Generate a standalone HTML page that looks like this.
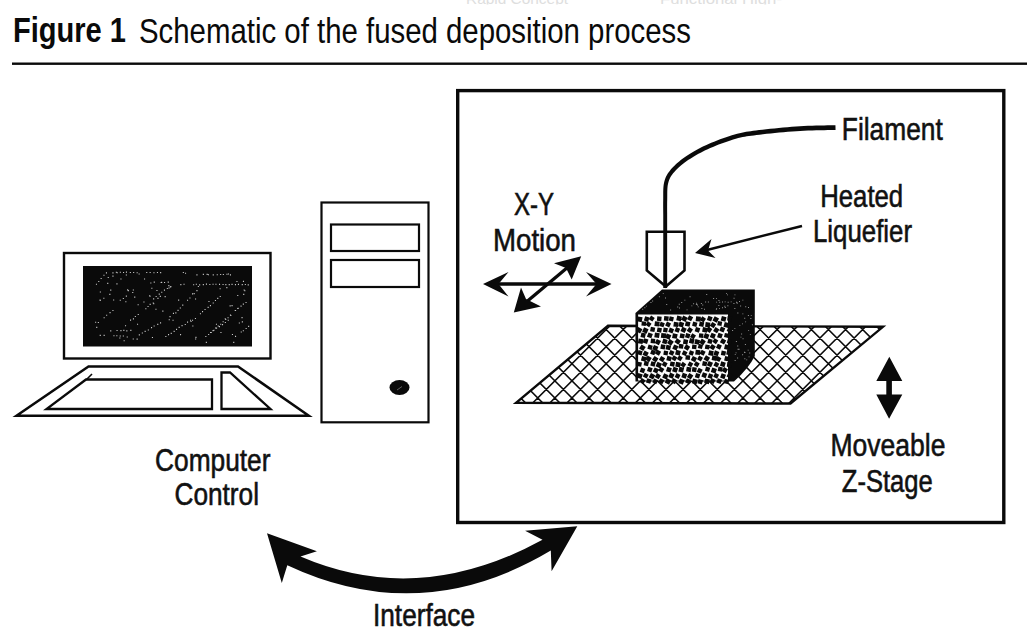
<!DOCTYPE html>
<html><head><meta charset="utf-8"><style>html,body{margin:0;padding:0;background:#fff;width:1027px;height:634px;overflow:hidden}</style></head>
<body><svg width="1027" height="634" viewBox="0 0 1027 634" style="display:block;font-family:'Liberation Sans',sans-serif"><defs><clipPath id="topc"><rect x="0" y="0" width="1027" height="4.6"/></clipPath></defs><g clip-path="url(#topc)">
<text x="466" y="4.3" font-size="15" font-weight="normal" fill="#dedede" textLength="102" lengthAdjust="spacingAndGlyphs">Rapid Concept</text>
<text x="660" y="4.3" font-size="15" font-weight="normal" fill="#dedede" textLength="122" lengthAdjust="spacingAndGlyphs">Functional High-</text>
</g>
<text x="13" y="42.3" font-size="35" font-weight="bold" fill="#0a0a0a" textLength="113" lengthAdjust="spacingAndGlyphs">Figure 1</text>
<text x="139" y="42.5" font-size="35" font-weight="normal" fill="#0a0a0a" textLength="552" lengthAdjust="spacingAndGlyphs">Schematic of the fused deposition process</text>
<rect x="12" y="62.5" width="1015" height="2.4" fill="#0a0a0a"/>
<rect x="457.7" y="90.6" width="546.1" height="431.9" fill="none" stroke="#0a0a0a" stroke-width="3.4"/>
<rect x="64" y="253" width="206.5" height="105.5" fill="none" stroke="#0a0a0a" stroke-width="2.4"/>
<rect x="83" y="266" width="169" height="80.5" fill="#0a0a0a"/>
<path d="M95.9 283.7h1.1v1.1h-1.1zM98.2 281.0h1.1v1.1h-1.1zM100.6 278.0h1.1v1.1h-1.1zM103.4 274.7h1.1v1.1h-1.1zM105.9 272.3h1.1v1.1h-1.1zM112.4 272.3h1.1v1.1h-1.1zM115.8 271.7h1.1v1.1h-1.1zM119.8 271.7h1.1v1.1h-1.1zM123.0 271.9h1.1v1.1h-1.1zM125.9 271.6h1.1v1.1h-1.1zM129.8 271.9h1.1v1.1h-1.1zM133.1 272.0h1.1v1.1h-1.1zM136.6 272.2h1.1v1.1h-1.1zM146.2 271.9h1.1v1.1h-1.1zM149.6 272.0h1.1v1.1h-1.1zM153.4 272.2h1.1v1.1h-1.1zM156.9 271.9h1.1v1.1h-1.1zM160.1 272.1h1.1v1.1h-1.1zM150.3 282.4h1.1v1.1h-1.1zM153.7 281.6h1.1v1.1h-1.1zM160.6 281.9h1.1v1.1h-1.1zM164.0 282.0h1.1v1.1h-1.1zM167.7 281.6h1.1v1.1h-1.1zM99.7 299.8h1.1v1.1h-1.1zM103.3 297.7h1.1v1.1h-1.1zM109.3 293.8h1.1v1.1h-1.1zM119.7 299.7h1.1v1.1h-1.1zM122.8 298.0h1.1v1.1h-1.1zM125.8 295.6h1.1v1.1h-1.1zM132.2 292.0h1.1v1.1h-1.1zM153.1 298.3h1.1v1.1h-1.1zM155.6 295.9h1.1v1.1h-1.1zM158.7 293.6h1.1v1.1h-1.1zM161.2 291.7h1.1v1.1h-1.1zM163.9 289.6h1.1v1.1h-1.1zM166.8 287.9h1.1v1.1h-1.1zM170.3 286.1h1.1v1.1h-1.1zM97.8 321.9h1.1v1.1h-1.1zM103.6 317.2h1.1v1.1h-1.1zM106.1 314.7h1.1v1.1h-1.1zM109.5 312.1h1.1v1.1h-1.1zM112.4 310.0h1.1v1.1h-1.1zM130.0 319.6h1.1v1.1h-1.1zM132.9 318.3h1.1v1.1h-1.1zM134.8 315.9h1.1v1.1h-1.1zM137.7 314.0h1.1v1.1h-1.1zM145.3 308.2h1.1v1.1h-1.1zM147.5 305.9h1.1v1.1h-1.1zM149.6 303.8h1.1v1.1h-1.1zM152.7 302.4h1.1v1.1h-1.1zM157.4 297.8h1.1v1.1h-1.1zM159.8 295.8h1.1v1.1h-1.1zM175.3 312.3h1.1v1.1h-1.1zM177.5 309.8h1.1v1.1h-1.1zM179.8 307.4h1.1v1.1h-1.1zM182.2 304.6h1.1v1.1h-1.1zM187.0 299.7h1.1v1.1h-1.1zM189.4 297.5h1.1v1.1h-1.1zM196.4 290.1h1.1v1.1h-1.1zM192.0 319.7h1.1v1.1h-1.1zM194.9 317.9h1.1v1.1h-1.1zM199.9 313.2h1.1v1.1h-1.1zM202.0 311.1h1.1v1.1h-1.1zM204.5 309.0h1.1v1.1h-1.1zM207.6 306.8h1.1v1.1h-1.1zM209.9 305.1h1.1v1.1h-1.1zM212.7 302.5h1.1v1.1h-1.1zM214.9 300.0h1.1v1.1h-1.1zM217.2 297.8h1.1v1.1h-1.1zM219.7 296.0h1.1v1.1h-1.1zM210.0 331.9h1.1v1.1h-1.1zM212.5 330.1h1.1v1.1h-1.1zM215.0 327.5h1.1v1.1h-1.1zM217.7 325.5h1.1v1.1h-1.1zM220.2 323.7h1.1v1.1h-1.1zM222.6 321.2h1.1v1.1h-1.1zM225.2 319.0h1.1v1.1h-1.1zM227.5 317.2h1.1v1.1h-1.1zM230.3 315.0h1.1v1.1h-1.1zM234.7 310.0h1.1v1.1h-1.1zM237.2 308.0h1.1v1.1h-1.1zM224.7 318.2h1.1v1.1h-1.1zM229.9 314.4h1.1v1.1h-1.1zM235.0 309.9h1.1v1.1h-1.1zM237.6 307.8h1.1v1.1h-1.1zM240.5 305.6h1.1v1.1h-1.1zM242.8 303.6h1.1v1.1h-1.1zM245.5 302.0h1.1v1.1h-1.1zM99.7 334.8h1.1v1.1h-1.1zM103.6 334.8h1.1v1.1h-1.1zM113.4 335.2h1.1v1.1h-1.1zM116.3 335.2h1.1v1.1h-1.1zM119.7 335.4h1.1v1.1h-1.1zM132.7 338.5h1.1v1.1h-1.1zM138.8 334.3h1.1v1.1h-1.1zM141.8 332.5h1.1v1.1h-1.1zM144.6 330.8h1.1v1.1h-1.1zM147.8 329.4h1.1v1.1h-1.1zM151.0 327.1h1.1v1.1h-1.1zM153.6 325.4h1.1v1.1h-1.1zM157.2 323.8h1.1v1.1h-1.1zM160.0 322.3h1.1v1.1h-1.1zM165.3 335.9h1.1v1.1h-1.1zM168.0 334.1h1.1v1.1h-1.1zM170.7 332.8h1.1v1.1h-1.1zM173.6 330.8h1.1v1.1h-1.1zM176.0 328.8h1.1v1.1h-1.1zM178.6 326.8h1.1v1.1h-1.1zM181.5 325.1h1.1v1.1h-1.1zM184.7 323.9h1.1v1.1h-1.1zM187.0 321.6h1.1v1.1h-1.1zM190.0 319.7h1.1v1.1h-1.1zM205.3 335.9h1.1v1.1h-1.1zM208.1 334.0h1.1v1.1h-1.1zM210.7 332.0h1.1v1.1h-1.1zM213.4 329.7h1.1v1.1h-1.1zM216.0 327.6h1.1v1.1h-1.1zM218.9 326.1h1.1v1.1h-1.1zM222.0 324.1h1.1v1.1h-1.1zM224.8 321.9h1.1v1.1h-1.1zM227.7 319.7h1.1v1.1h-1.1zM180.3 284.1h1.1v1.1h-1.1zM183.5 283.7h1.1v1.1h-1.1zM193.1 284.2h1.1v1.1h-1.1zM195.8 283.7h1.1v1.1h-1.1zM199.1 284.3h1.1v1.1h-1.1zM202.8 284.1h1.1v1.1h-1.1zM205.9 283.6h1.1v1.1h-1.1zM209.3 284.0h1.1v1.1h-1.1zM212.5 283.7h1.1v1.1h-1.1zM215.4 283.7h1.1v1.1h-1.1zM219.0 283.8h1.1v1.1h-1.1zM222.5 284.0h1.1v1.1h-1.1zM225.3 284.1h1.1v1.1h-1.1zM228.7 284.1h1.1v1.1h-1.1zM231.5 283.8h1.1v1.1h-1.1zM234.9 284.1h1.1v1.1h-1.1zM237.9 283.8h1.1v1.1h-1.1zM241.7 284.1h1.1v1.1h-1.1zM244.8 284.0h1.1v1.1h-1.1zM247.7 284.3h1.1v1.1h-1.1zM196.4 274.3h1.1v1.1h-1.1zM202.8 273.8h1.1v1.1h-1.1zM206.6 273.8h1.1v1.1h-1.1zM212.7 274.3h1.1v1.1h-1.1zM216.7 274.2h1.1v1.1h-1.1zM220.1 274.0h1.1v1.1h-1.1zM222.8 274.0h1.1v1.1h-1.1zM226.4 273.7h1.1v1.1h-1.1zM229.9 274.3h1.1v1.1h-1.1zM110.2 330.3h1.1v1.1h-1.1zM116.5 329.9h1.1v1.1h-1.1zM120.4 330.1h1.1v1.1h-1.1zM123.3 329.8h1.1v1.1h-1.1zM126.3 330.3h1.1v1.1h-1.1zM130.3 329.8h1.1v1.1h-1.1zM235.0 335.8h1.1v1.1h-1.1zM242.8 330.2h1.1v1.1h-1.1zM245.6 328.0h1.1v1.1h-1.1zM248.1 325.8h1.1v1.1h-1.1zM236.4 280.9h1.1v1.1h-1.1zM164.6 296.1h1.1v1.1h-1.1zM137.0 323.7h1.1v1.1h-1.1zM244.3 290.2h1.1v1.1h-1.1zM193.6 293.1h1.1v1.1h-1.1zM178.1 299.6h1.1v1.1h-1.1zM116.4 283.3h1.1v1.1h-1.1zM122.8 335.4h1.1v1.1h-1.1zM168.5 287.4h1.1v1.1h-1.1zM233.2 341.8h1.1v1.1h-1.1zM161.1 281.8h1.1v1.1h-1.1zM120.4 278.4h1.1v1.1h-1.1zM144.0 278.4h1.1v1.1h-1.1zM127.8 290.1h1.1v1.1h-1.1zM180.0 334.1h1.1v1.1h-1.1zM208.4 300.9h1.1v1.1h-1.1zM155.4 308.7h1.1v1.1h-1.1zM149.5 295.7h1.1v1.1h-1.1zM99.8 291.4h1.1v1.1h-1.1zM242.9 280.8h1.1v1.1h-1.1zM169.5 316.1h1.1v1.1h-1.1zM226.3 287.1h1.1v1.1h-1.1zM132.8 289.4h1.1v1.1h-1.1zM153.2 303.2h1.1v1.1h-1.1zM240.7 331.4h1.1v1.1h-1.1zM227.9 273.5h1.1v1.1h-1.1zM95.1 321.7h1.1v1.1h-1.1zM231.5 305.1h1.1v1.1h-1.1zM182.8 272.0h1.1v1.1h-1.1zM151.9 336.9h1.1v1.1h-1.1zM220.4 331.9h1.1v1.1h-1.1zM243.6 289.4h1.1v1.1h-1.1zM107.2 282.8h1.1v1.1h-1.1zM172.5 319.7h1.1v1.1h-1.1zM238.8 322.5h1.1v1.1h-1.1zM192.3 325.5h1.1v1.1h-1.1zM162.3 310.6h1.1v1.1h-1.1zM96.2 326.8h1.1v1.1h-1.1zM126.7 336.4h1.1v1.1h-1.1zM192.0 293.3h1.1v1.1h-1.1zM110.2 289.6h1.1v1.1h-1.1zM190.5 320.9h1.1v1.1h-1.1zM107.7 276.9h1.1v1.1h-1.1zM172.9 312.8h1.1v1.1h-1.1zM151.3 287.7h1.1v1.1h-1.1zM185.0 272.7h1.1v1.1h-1.1zM137.6 304.2h1.1v1.1h-1.1zM241.5 317.1h1.1v1.1h-1.1zM229.6 305.3h1.1v1.1h-1.1zM127.1 289.3h1.1v1.1h-1.1zM241.8 321.3h1.1v1.1h-1.1zM138.6 273.5h1.1v1.1h-1.1zM168.7 319.2h1.1v1.1h-1.1zM156.4 290.0h1.1v1.1h-1.1zM195.4 336.8h1.1v1.1h-1.1zM125.8 274.4h1.1v1.1h-1.1zM143.4 301.4h1.1v1.1h-1.1zM197.8 285.9h1.1v1.1h-1.1zM215.9 323.7h1.1v1.1h-1.1zM169.8 286.4h1.1v1.1h-1.1zM243.2 293.8h1.1v1.1h-1.1zM219.6 288.2h1.1v1.1h-1.1zM125.0 325.2h1.1v1.1h-1.1zM136.6 338.6h1.1v1.1h-1.1zM168.3 285.1h1.1v1.1h-1.1zM125.3 301.2h1.1v1.1h-1.1zM195.1 338.4h1.1v1.1h-1.1zM113.1 299.5h1.1v1.1h-1.1zM123.6 340.2h1.1v1.1h-1.1zM112.4 275.6h1.1v1.1h-1.1zM99.5 299.5h1.1v1.1h-1.1zM231.9 333.9h1.1v1.1h-1.1zM205.8 341.8h1.1v1.1h-1.1zM237.2 295.0h1.1v1.1h-1.1zM119.3 337.5h1.1v1.1h-1.1zM207.9 274.2h1.1v1.1h-1.1zM195.0 298.5h1.1v1.1h-1.1zM149.1 295.2h1.1v1.1h-1.1zM116.7 272.2h1.1v1.1h-1.1zM134.2 296.6h1.1v1.1h-1.1z" fill="#c8c8c8"/>
<path d="M88.5 366.5 L238 366.5 L308.8 415.8 L16.5 415.8 Z" fill="none" stroke="#0a0a0a" stroke-width="2.5"/>
<path d="M86 379.5 L212 379.5 L212 409 L46.5 409 Z" fill="none" stroke="#0a0a0a" stroke-width="2.3"/>
<path d="M86 380 L92 374" stroke="#0a0a0a" stroke-width="1.6"/>
<path d="M221.5 372.5 L230 372.5 L270.5 409 L221.5 409 Z" fill="none" stroke="#0a0a0a" stroke-width="2.3"/>
<rect x="321.5" y="202.5" width="107" height="219.8" fill="none" stroke="#0a0a0a" stroke-width="2.2"/>
<rect x="331" y="224.5" width="88" height="26.5" fill="none" stroke="#0a0a0a" stroke-width="2.2"/>
<rect x="331" y="260" width="88" height="27" fill="none" stroke="#0a0a0a" stroke-width="2.2"/>
<ellipse cx="399.5" cy="387.5" rx="10" ry="7.5" fill="#0a0a0a"/>
<path d="M397 390 L402 386.5" stroke="#777" stroke-width="0.8"/>
<text x="155" y="471" font-size="31.5" font-weight="normal" fill="#111" stroke="#111" stroke-width="0.6" textLength="115.5" lengthAdjust="spacingAndGlyphs">Computer</text>
<text x="174.5" y="505.3" font-size="31.5" font-weight="normal" fill="#111" stroke="#111" stroke-width="0.6" textLength="84.5" lengthAdjust="spacingAndGlyphs">Control</text>
<text x="373" y="626.3" font-size="31.5" font-weight="normal" fill="#111" stroke="#111" stroke-width="0.6" textLength="102" lengthAdjust="spacingAndGlyphs">Interface</text>
<text x="514" y="215.3" font-size="31.5" font-weight="normal" fill="#111" stroke="#111" stroke-width="0.6" textLength="40" lengthAdjust="spacingAndGlyphs">X-Y</text>
<text x="493" y="250.8" font-size="31.5" font-weight="normal" fill="#111" stroke="#111" stroke-width="0.6" textLength="83" lengthAdjust="spacingAndGlyphs">Motion</text>
<text x="841.8" y="140" font-size="31.5" font-weight="normal" fill="#111" stroke="#111" stroke-width="0.6" textLength="101" lengthAdjust="spacingAndGlyphs">Filament</text>
<text x="820.2" y="206.7" font-size="31.5" font-weight="normal" fill="#111" stroke="#111" stroke-width="0.6" textLength="83" lengthAdjust="spacingAndGlyphs">Heated</text>
<text x="813" y="241.7" font-size="31.5" font-weight="normal" fill="#111" stroke="#111" stroke-width="0.6" textLength="99" lengthAdjust="spacingAndGlyphs">Liquefier</text>
<text x="830.5" y="456.3" font-size="31.5" font-weight="normal" fill="#111" stroke="#111" stroke-width="0.6" textLength="115" lengthAdjust="spacingAndGlyphs">Moveable</text>
<text x="841.8" y="491.8" font-size="31.5" font-weight="normal" fill="#111" stroke="#111" stroke-width="0.6" textLength="91" lengthAdjust="spacingAndGlyphs">Z-Stage</text>
<path d="M835.45 125.20 L833.36 125.25 L830.72 125.30 L827.59 125.35 L824.07 125.41 L820.25 125.49 L816.23 125.58 L812.09 125.70 L807.92 125.85 L803.82 126.03 L799.87 126.25 L795.91 126.53 L791.75 126.84 L787.46 127.19 L783.10 127.58 L778.72 127.98 L774.41 128.41 L770.22 128.84 L766.22 129.27 L762.46 129.70 L759.03 130.12 L755.96 130.50 L753.21 130.84 L750.70 131.16 L748.36 131.48 L746.14 131.83 L743.97 132.20 L741.79 132.63 L739.54 133.14 L737.17 133.73 L734.61 134.43 L731.87 135.24 L729.01 136.15 L726.06 137.14 L723.07 138.20 L720.06 139.32 L717.06 140.47 L714.11 141.65 L711.25 142.84 L708.50 144.02 L705.90 145.19 L703.42 146.36 L701.00 147.55 L698.66 148.76 L696.39 149.98 L694.19 151.22 L692.06 152.47 L690.00 153.73 L688.02 154.99 L686.11 156.26 L684.28 157.53 L682.51 158.81 L680.80 160.12 L679.16 161.44 L677.59 162.77 L676.10 164.10 L674.69 165.43 L673.36 166.76 L672.11 168.07 L670.95 169.37 L669.89 170.65 L668.93 171.89 L668.08 173.08 L667.33 174.25 L666.66 175.41 L666.07 176.58 L665.56 177.77 L665.10 179.00 L664.70 180.28 L664.34 181.61 L664.01 183.02 L663.72 184.58 L663.50 186.24 L663.36 187.96 L663.28 189.71 L663.23 191.48 L663.22 193.25 L663.22 195.00 L663.22 196.72 L663.22 198.38 L663.20 199.97 L663.17 201.59 L663.16 203.31 L663.16 205.07 L663.16 206.83 L663.18 208.54 L663.19 210.17 L663.21 211.67 L663.23 213.00 L663.24 214.13 L663.25 215.01 L663.25 288.00 L667.15 288.00 L667.15 214.99 L667.15 214.10 L667.15 212.97 L667.14 211.63 L667.13 210.14 L667.12 208.52 L667.12 206.83 L667.13 205.09 L667.14 203.36 L667.16 201.67 L667.20 200.03 L667.23 198.40 L667.24 196.72 L667.25 195.01 L667.26 193.29 L667.28 191.59 L667.33 189.92 L667.42 188.30 L667.55 186.76 L667.74 185.33 L667.99 183.98 L668.30 182.69 L668.63 181.52 L668.97 180.44 L669.35 179.42 L669.78 178.45 L670.26 177.49 L670.83 176.52 L671.48 175.51 L672.24 174.46 L673.11 173.35 L674.09 172.18 L675.17 170.98 L676.33 169.76 L677.59 168.52 L678.92 167.28 L680.34 166.02 L681.83 164.77 L683.39 163.52 L685.02 162.29 L686.72 161.07 L688.49 159.86 L690.34 158.64 L692.26 157.43 L694.25 156.22 L696.31 155.02 L698.45 153.82 L700.66 152.64 L702.93 151.48 L705.28 150.33 L707.70 149.21 L710.24 148.08 L712.94 146.92 L715.75 145.77 L718.65 144.62 L721.59 143.49 L724.55 142.41 L727.48 141.38 L730.36 140.42 L733.14 139.55 L735.79 138.77 L738.25 138.11 L740.52 137.55 L742.66 137.08 L744.74 136.68 L746.82 136.32 L748.98 136.00 L751.27 135.70 L753.76 135.39 L756.52 135.05 L759.57 134.68 L762.98 134.28 L766.71 133.87 L770.69 133.45 L774.86 133.03 L779.15 132.62 L783.50 132.22 L787.84 131.85 L792.10 131.51 L796.22 131.20 L800.13 130.95 L804.02 130.73 L808.08 130.56 L812.21 130.43 L816.33 130.32 L820.34 130.24 L824.14 130.17 L827.66 130.12 L830.80 130.08 L833.46 130.04 L835.55 130.00 Z" fill="#0a0a0a"/>
<path d="M646.8 231.8 L684.5 231.8 L684.5 270.5 L665.8 286.5 L646.8 270.5 Z" fill="none" stroke="#0a0a0a" stroke-width="2.6"/>
<path d="M802 226 L705 250.5" stroke="#0a0a0a" stroke-width="2.4"/>
<path d="M695 253 L711.5 239 L708 250.5 L715.5 258 Z" fill="#0a0a0a"/>
<path d="M490 284 L605 284" stroke="#0a0a0a" stroke-width="3.3"/>
<path d="M483 284 L508.5 272 L498.5 284 L508.5 296.5 Z" fill="#0a0a0a"/>
<path d="M611.5 284 L586 272 L596.5 284 L586 296.5 Z" fill="#0a0a0a"/>
<path d="M518 309 L577 259.5" stroke="#0a0a0a" stroke-width="3.3"/>
<path d="M581.2 256.2 L554 263.3 L566 268 L571.7 279.4 Z" fill="#0a0a0a"/>
<path d="M513.8 312.5 L521 287.6 L526 299 L541 306.6 Z" fill="#0a0a0a"/>
<defs><clipPath id="plat"><path d="M516 402.8 L608 325.8 L883 326.8 L790.5 403.5 Z"/></clipPath></defs>
<g clip-path="url(#plat)"><path d="M-381.0 300 L-261.0 420M-681.0 300 L-801.0 420M-363.9 300 L-243.9 420M-663.9 300 L-783.9 420M-346.8 300 L-226.8 420M-646.8 300 L-766.8 420M-329.7 300 L-209.7 420M-629.7 300 L-749.7 420M-312.6 300 L-192.6 420M-612.6 300 L-732.6 420M-295.5 300 L-175.5 420M-595.5 300 L-715.5 420M-278.4 300 L-158.4 420M-578.4 300 L-698.4 420M-261.3 300 L-141.3 420M-561.3 300 L-681.3 420M-244.2 300 L-124.2 420M-544.2 300 L-664.2 420M-227.1 300 L-107.1 420M-527.1 300 L-647.1 420M-210.0 300 L-90.0 420M-510.0 300 L-630.0 420M-192.9 300 L-72.9 420M-492.9 300 L-612.9 420M-175.8 300 L-55.8 420M-475.8 300 L-595.8 420M-158.7 300 L-38.7 420M-458.7 300 L-578.7 420M-141.6 300 L-21.6 420M-441.6 300 L-561.6 420M-124.5 300 L-4.5 420M-424.5 300 L-544.5 420M-107.4 300 L12.6 420M-407.4 300 L-527.4 420M-90.3 300 L29.7 420M-390.3 300 L-510.3 420M-73.2 300 L46.8 420M-373.2 300 L-493.2 420M-56.1 300 L63.9 420M-356.1 300 L-476.1 420M-39.0 300 L81.0 420M-339.0 300 L-459.0 420M-21.9 300 L98.1 420M-321.9 300 L-441.9 420M-4.8 300 L115.2 420M-304.8 300 L-424.8 420M12.3 300 L132.3 420M-287.7 300 L-407.7 420M29.4 300 L149.4 420M-270.6 300 L-390.6 420M46.5 300 L166.5 420M-253.5 300 L-373.5 420M63.6 300 L183.6 420M-236.4 300 L-356.4 420M80.7 300 L200.7 420M-219.3 300 L-339.3 420M97.8 300 L217.8 420M-202.2 300 L-322.2 420M114.9 300 L234.9 420M-185.1 300 L-305.1 420M132.0 300 L252.0 420M-168.0 300 L-288.0 420M149.1 300 L269.1 420M-150.9 300 L-270.9 420M166.2 300 L286.2 420M-133.8 300 L-253.8 420M183.3 300 L303.3 420M-116.7 300 L-236.7 420M200.4 300 L320.4 420M-99.6 300 L-219.6 420M217.5 300 L337.5 420M-82.5 300 L-202.5 420M234.6 300 L354.6 420M-65.4 300 L-185.4 420M251.7 300 L371.7 420M-48.3 300 L-168.3 420M268.8 300 L388.8 420M-31.2 300 L-151.2 420M285.9 300 L405.9 420M-14.1 300 L-134.1 420M303.0 300 L423.0 420M3.0 300 L-117.0 420M320.1 300 L440.1 420M20.1 300 L-99.9 420M337.2 300 L457.2 420M37.2 300 L-82.8 420M354.3 300 L474.3 420M54.3 300 L-65.7 420M371.4 300 L491.4 420M71.4 300 L-48.6 420M388.5 300 L508.5 420M88.5 300 L-31.5 420M405.6 300 L525.6 420M105.6 300 L-14.4 420M422.7 300 L542.7 420M122.7 300 L2.7 420M439.8 300 L559.8 420M139.8 300 L19.8 420M456.9 300 L576.9 420M156.9 300 L36.9 420M474.0 300 L594.0 420M174.0 300 L54.0 420M491.1 300 L611.1 420M191.1 300 L71.1 420M508.2 300 L628.2 420M208.2 300 L88.2 420M525.3 300 L645.3 420M225.3 300 L105.3 420M542.4 300 L662.4 420M242.4 300 L122.4 420M559.5 300 L679.5 420M259.5 300 L139.5 420M576.6 300 L696.6 420M276.6 300 L156.6 420M593.7 300 L713.7 420M293.7 300 L173.7 420M610.8 300 L730.8 420M310.8 300 L190.8 420M627.9 300 L747.9 420M327.9 300 L207.9 420M645.0 300 L765.0 420M345.0 300 L225.0 420M662.1 300 L782.1 420M362.1 300 L242.1 420M679.2 300 L799.2 420M379.2 300 L259.2 420M696.3 300 L816.3 420M396.3 300 L276.3 420M713.4 300 L833.4 420M413.4 300 L293.4 420M730.5 300 L850.5 420M430.5 300 L310.5 420M747.6 300 L867.6 420M447.6 300 L327.6 420M764.7 300 L884.7 420M464.7 300 L344.7 420M781.8 300 L901.8 420M481.8 300 L361.8 420M798.9 300 L918.9 420M498.9 300 L378.9 420M816.0 300 L936.0 420M516.0 300 L396.0 420M833.1 300 L953.1 420M533.1 300 L413.1 420M850.2 300 L970.2 420M550.2 300 L430.2 420M867.3 300 L987.3 420M567.3 300 L447.3 420M884.4 300 L1004.4 420M584.4 300 L464.4 420M901.5 300 L1021.5 420M601.5 300 L481.5 420M918.6 300 L1038.6 420M618.6 300 L498.6 420M935.7 300 L1055.7 420M635.7 300 L515.7 420M952.8 300 L1072.8 420M652.8 300 L532.8 420M969.9 300 L1089.9 420M669.9 300 L549.9 420M987.0 300 L1107.0 420M687.0 300 L567.0 420M1004.1 300 L1124.1 420M704.1 300 L584.1 420M1021.2 300 L1141.2 420M721.2 300 L601.2 420M1038.3 300 L1158.3 420M738.3 300 L618.3 420M1055.4 300 L1175.4 420M755.4 300 L635.4 420M1072.5 300 L1192.5 420M772.5 300 L652.5 420M1089.6 300 L1209.6 420M789.6 300 L669.6 420M1106.7 300 L1226.7 420M806.7 300 L686.7 420M1123.8 300 L1243.8 420M823.8 300 L703.8 420M1140.9 300 L1260.9 420M840.9 300 L720.9 420M1158.0 300 L1278.0 420M858.0 300 L738.0 420M1175.1 300 L1295.1 420M875.1 300 L755.1 420M1192.2 300 L1312.2 420M892.2 300 L772.2 420M1209.3 300 L1329.3 420M909.3 300 L789.3 420M1226.4 300 L1346.4 420M926.4 300 L806.4 420M1243.5 300 L1363.5 420M943.5 300 L823.5 420M1260.6 300 L1380.6 420M960.6 300 L840.6 420M1277.7 300 L1397.7 420M977.7 300 L857.7 420M1294.8 300 L1414.8 420M994.8 300 L874.8 420M1311.9 300 L1431.9 420M1011.9 300 L891.9 420M1329.0 300 L1449.0 420M1029.0 300 L909.0 420M1346.1 300 L1466.1 420M1046.1 300 L926.1 420M1363.2 300 L1483.2 420M1063.2 300 L943.2 420M1380.3 300 L1500.3 420M1080.3 300 L960.3 420M1397.4 300 L1517.4 420M1097.4 300 L977.4 420M1414.5 300 L1534.5 420M1114.5 300 L994.5 420M1431.6 300 L1551.6 420M1131.6 300 L1011.6 420M1448.7 300 L1568.7 420M1148.7 300 L1028.7 420M1465.8 300 L1585.8 420M1165.8 300 L1045.8 420M1482.9 300 L1602.9 420M1182.9 300 L1062.9 420M1500.0 300 L1620.0 420M1200.0 300 L1080.0 420M1517.1 300 L1637.1 420M1217.1 300 L1097.1 420M1534.2 300 L1654.2 420M1234.2 300 L1114.2 420M1551.3 300 L1671.3 420M1251.3 300 L1131.3 420M1568.4 300 L1688.4 420M1268.4 300 L1148.4 420M1585.5 300 L1705.5 420M1285.5 300 L1165.5 420M1602.6 300 L1722.6 420M1302.6 300 L1182.6 420M1619.7 300 L1739.7 420M1319.7 300 L1199.7 420M1636.8 300 L1756.8 420M1336.8 300 L1216.8 420M1653.9 300 L1773.9 420M1353.9 300 L1233.9 420" stroke="#0a0a0a" stroke-width="1.55"/></g>
<path d="M516 402.8 L608 325.8 L883 326.8 L790.5 403.5 Z" fill="none" stroke="#0a0a0a" stroke-width="2.4"/>
<path d="M635.5 313 L662 289.5 L754.8 289.5 L754.8 356 Q749 368 734 381.5 L635.5 381.5 Z" fill="#0a0a0a"/>
<rect x="638" y="314.5" width="90" height="66" fill="#fafafa"/>
<path d="M637.8 316.4l4.78 0.95l-0.95 4.78l-4.78 -0.95zM645.2 316.2l4.29 1.39l-1.39 4.29l-4.29 -1.39zM651.1 315.6l3.65 2.33l-2.33 3.65l-3.65 -2.33zM657.3 316.3l4.39 0.45l-0.45 4.39l-4.39 -0.45zM664.3 316.1l4.52 0.49l-0.49 4.52l-4.52 -0.49zM669.7 316.3l4.22 0.95l-0.95 4.22l-4.22 -0.95zM677.3 315.6l4.62 1.08l-1.08 4.62l-4.62 -1.08zM683.3 315.5l4.36 2.17l-2.17 4.36l-4.36 -2.17zM689.2 315.2l3.98 2.08l-2.08 3.98l-3.98 -2.08zM696.1 316.3l4.83 0.48l-0.48 4.83l-4.83 -0.48zM702.3 316.3l3.70 2.46l-2.46 3.70l-3.70 -2.46zM708.4 315.7l4.26 1.54l-1.54 4.26l-4.26 -1.54zM714.7 316.2l4.32 2.22l-2.22 4.32l-4.32 -2.22zM721.9 315.9l4.63 1.23l-1.23 4.63l-4.63 -1.23zM727.7 316.1l4.45 0.58l-0.58 4.45l-4.45 -0.58zM641.9 321.2l4.39 0.53l-0.53 4.39l-4.39 -0.53zM648.0 321.3l3.56 2.44l-2.44 3.56l-3.56 -2.44zM655.0 321.2l4.79 0.63l-0.63 4.79l-4.79 -0.63zM660.7 321.8l4.13 1.38l-1.38 4.13l-4.13 -1.38zM667.0 321.6l4.02 1.89l-1.89 4.02l-4.02 -1.89zM674.0 321.7l4.69 0.71l-0.71 4.69l-4.69 -0.71zM679.6 321.6l4.61 1.34l-1.34 4.61l-4.61 -1.34zM685.9 321.2l4.63 1.02l-1.02 4.63l-4.63 -1.02zM693.2 321.6l4.25 1.12l-1.12 4.25l-4.25 -1.12zM699.8 321.5l4.44 0.94l-0.94 4.44l-4.44 -0.94zM705.7 322.1l4.74 0.67l-0.67 4.74l-4.74 -0.67zM712.3 321.9l3.87 2.46l-2.46 3.87l-3.87 -2.46zM718.0 321.0l4.25 0.80l-0.80 4.25l-4.25 -0.80zM724.8 322.0l4.69 1.36l-1.36 4.69l-4.69 -1.36zM638.2 326.9l4.24 2.29l-2.29 4.24l-4.24 -2.29zM644.1 327.3l4.46 1.95l-1.95 4.46l-4.46 -1.95zM650.9 326.8l4.35 0.85l-0.85 4.35l-4.35 -0.85zM657.6 327.4l4.37 0.86l-0.86 4.37l-4.37 -0.86zM663.7 327.4l4.23 0.79l-0.79 4.23l-4.23 -0.79zM669.9 327.6l4.18 1.64l-1.64 4.18l-4.18 -1.64zM676.1 327.1l4.04 1.59l-1.59 4.04l-4.04 -1.59zM682.5 326.8l4.21 2.04l-2.04 4.21l-4.21 -2.04zM689.2 327.0l3.79 2.52l-2.52 3.79l-3.79 -2.52zM696.0 327.0l4.28 1.35l-1.35 4.28l-4.28 -1.35zM703.0 327.0l4.73 0.91l-0.91 4.73l-4.73 -0.91zM708.3 326.6l4.01 2.51l-2.51 4.01l-4.01 -2.51zM715.5 327.1l3.88 2.38l-2.38 3.88l-3.88 -2.38zM721.0 326.6l4.26 1.68l-1.68 4.26l-4.26 -1.68zM728.5 326.7l4.29 1.88l-1.88 4.29l-4.29 -1.88zM641.5 332.5l4.40 1.06l-1.06 4.40l-4.40 -1.06zM648.5 332.4l4.34 1.56l-1.56 4.34l-4.34 -1.56zM655.0 332.5l4.73 0.73l-0.73 4.73l-4.73 -0.73zM661.4 332.9l4.83 0.56l-0.56 4.83l-4.83 -0.56zM666.9 333.4l4.45 1.94l-1.94 4.45l-4.45 -1.94zM673.0 333.2l4.70 0.97l-0.97 4.70l-4.70 -0.97zM680.4 333.3l4.47 0.83l-0.83 4.47l-4.47 -0.83zM686.2 332.9l4.25 1.26l-1.26 4.25l-4.25 -1.26zM692.3 333.2l3.71 2.31l-2.31 3.71l-3.71 -2.31zM699.2 333.2l4.30 0.46l-0.46 4.30l-4.30 -0.46zM705.0 333.0l4.47 1.76l-1.76 4.47l-4.47 -1.76zM711.6 332.8l4.32 1.79l-1.79 4.32l-4.32 -1.79zM718.5 332.8l4.33 1.42l-1.42 4.33l-4.33 -1.42zM724.9 332.9l4.22 0.90l-0.90 4.22l-4.22 -0.90zM638.7 338.5l4.68 0.86l-0.86 4.68l-4.68 -0.86zM644.1 338.2l4.36 1.41l-1.41 4.36l-4.36 -1.41zM651.0 338.6l4.33 0.47l-0.47 4.33l-4.33 -0.47zM656.9 338.9l4.12 2.22l-2.22 4.12l-4.12 -2.22zM663.3 338.6l4.42 1.30l-1.30 4.42l-4.42 -1.30zM669.8 339.0l4.00 2.79l-2.79 4.00l-4.00 -2.79zM677.1 338.2l3.91 2.68l-2.68 3.91l-3.91 -2.68zM683.7 339.1l4.53 0.79l-0.79 4.53l-4.53 -0.79zM690.1 338.1l4.60 1.28l-1.28 4.60l-4.60 -1.28zM695.4 339.1l4.63 1.09l-1.09 4.63l-4.63 -1.09zM701.8 338.6l4.03 2.58l-2.58 4.03l-4.03 -2.58zM708.4 338.6l4.28 1.11l-1.11 4.28l-4.28 -1.11zM714.7 338.2l3.62 2.36l-2.36 3.62l-3.62 -2.36zM722.1 338.2l4.14 2.25l-2.25 4.14l-4.14 -2.25zM727.9 338.8l4.20 1.19l-1.19 4.20l-4.20 -1.19zM641.6 344.4l4.11 2.52l-2.52 4.11l-4.11 -2.52zM648.6 344.5l4.18 1.26l-1.26 4.18l-4.18 -1.26zM654.0 344.9l4.42 1.81l-1.81 4.42l-4.42 -1.81zM661.1 344.2l4.44 0.81l-0.81 4.44l-4.44 -0.81zM666.5 344.7l4.63 1.04l-1.04 4.63l-4.63 -1.04zM674.2 344.4l4.25 1.97l-1.97 4.25l-4.25 -1.97zM679.2 343.7l4.43 0.74l-0.74 4.43l-4.43 -0.74zM686.2 344.3l3.97 2.47l-2.47 3.97l-3.97 -2.47zM692.3 344.5l4.36 0.43l-0.43 4.36l-4.36 -0.43zM698.9 343.8l4.14 1.17l-1.17 4.14l-4.14 -1.17zM705.6 344.4l4.35 0.86l-0.86 4.35l-4.35 -0.86zM711.9 343.9l3.92 2.55l-2.55 3.92l-3.92 -2.55zM717.8 343.8l4.06 1.82l-1.82 4.06l-4.06 -1.82zM725.1 344.2l4.70 1.08l-1.08 4.70l-4.70 -1.08zM638.5 350.1l4.15 1.15l-1.15 4.15l-4.15 -1.15zM644.6 350.5l4.18 2.13l-2.13 4.18l-4.18 -2.13zM651.7 349.5l4.16 1.59l-1.59 4.16l-4.16 -1.59zM657.1 349.5l4.00 2.16l-2.16 4.00l-4.00 -2.16zM664.0 350.5l4.25 0.69l-0.69 4.25l-4.25 -0.69zM670.5 350.0l4.03 1.82l-1.82 4.03l-4.03 -1.82zM676.2 349.8l4.65 1.16l-1.16 4.65l-4.65 -1.16zM683.6 350.3l3.88 1.93l-1.93 3.88l-3.88 -1.93zM690.0 350.3l4.07 1.40l-1.40 4.07l-4.07 -1.40zM695.8 349.7l4.70 0.67l-0.67 4.70l-4.70 -0.67zM701.7 349.8l3.94 2.05l-2.05 3.94l-3.94 -2.05zM709.2 350.3l4.60 1.06l-1.06 4.60l-4.60 -1.06zM715.0 350.3l4.33 1.64l-1.64 4.33l-4.33 -1.64zM721.7 350.6l4.37 0.89l-0.89 4.37l-4.37 -0.89zM727.2 349.7l4.72 1.01l-1.01 4.72l-4.72 -1.01zM642.1 356.0l4.59 1.21l-1.21 4.59l-4.59 -1.21zM647.7 355.4l4.08 2.57l-2.57 4.08l-4.08 -2.57zM654.6 355.9l3.86 2.64l-2.64 3.86l-3.86 -2.64zM661.2 355.9l3.94 2.34l-2.34 3.94l-3.94 -2.34zM667.4 355.8l4.42 1.12l-1.12 4.42l-4.42 -1.12zM673.7 355.2l3.74 2.37l-2.37 3.74l-3.74 -2.37zM679.2 355.2l3.68 2.38l-2.38 3.68l-3.68 -2.38zM685.8 355.1l4.48 0.49l-0.49 4.48l-4.48 -0.49zM692.9 355.9l4.20 2.15l-2.15 4.20l-4.20 -2.15zM699.2 355.5l3.78 2.14l-2.14 3.78l-3.78 -2.14zM706.0 355.2l4.11 2.47l-2.47 4.11l-4.11 -2.47zM712.5 355.2l4.76 0.94l-0.94 4.76l-4.76 -0.94zM717.6 356.1l3.81 2.14l-2.14 3.81l-3.81 -2.14zM725.2 355.9l4.55 1.10l-1.10 4.55l-4.55 -1.10zM637.7 361.7l4.28 0.84l-0.84 4.28l-4.28 -0.84zM644.6 360.8l4.38 0.99l-0.99 4.38l-4.38 -0.99zM651.4 361.2l4.32 1.13l-1.13 4.32l-4.32 -1.13zM657.5 361.8l4.47 1.95l-1.95 4.47l-4.47 -1.95zM663.8 361.3l3.81 2.04l-2.04 3.81l-3.81 -2.04zM670.6 361.4l4.42 0.90l-0.90 4.42l-4.42 -0.90zM676.1 361.8l4.74 0.85l-0.85 4.74l-4.74 -0.85zM682.7 361.7l3.55 2.43l-2.43 3.55l-3.55 -2.43zM689.5 361.4l3.77 2.08l-2.08 3.77l-3.77 -2.08zM695.9 361.2l3.82 2.20l-2.20 3.82l-3.82 -2.20zM702.9 361.1l4.37 0.88l-0.88 4.37l-4.37 -0.88zM708.7 360.9l4.31 1.93l-1.93 4.31l-4.31 -1.93zM715.5 361.6l3.82 2.08l-2.08 3.82l-3.82 -2.08zM721.3 361.3l4.48 1.35l-1.35 4.48l-4.48 -1.35zM727.3 361.9l4.81 0.48l-0.48 4.81l-4.81 -0.48zM641.2 367.6l4.16 1.52l-1.52 4.16l-4.16 -1.52zM648.4 366.8l4.29 1.46l-1.46 4.29l-4.29 -1.46zM654.7 367.4l4.21 1.91l-1.91 4.21l-4.21 -1.91zM660.5 366.7l3.89 2.27l-2.27 3.89l-3.89 -2.27zM667.4 366.7l4.46 1.46l-1.46 4.46l-4.46 -1.46zM673.6 366.7l4.51 1.54l-1.54 4.51l-4.51 -1.54zM679.5 366.7l4.69 1.17l-1.17 4.69l-4.69 -1.17zM686.8 366.7l4.65 0.79l-0.79 4.65l-4.65 -0.79zM692.5 367.1l4.38 0.76l-0.76 4.38l-4.38 -0.76zM698.7 367.7l4.01 2.03l-2.03 4.01l-4.01 -2.03zM706.1 366.6l4.18 1.24l-1.24 4.18l-4.18 -1.24zM712.3 367.4l4.65 1.52l-1.52 4.65l-4.65 -1.52zM718.5 366.6l4.33 0.86l-0.86 4.33l-4.33 -0.86zM724.0 367.0l3.97 2.18l-2.18 3.97l-3.97 -2.18zM638.3 373.0l4.46 1.53l-1.53 4.46l-4.46 -1.53zM644.8 372.7l3.90 2.01l-2.01 3.90l-3.90 -2.01zM651.0 372.9l4.30 2.24l-2.24 4.30l-4.30 -2.24zM657.1 373.1l3.89 2.37l-2.37 3.89l-3.89 -2.37zM664.2 373.2l4.30 2.04l-2.04 4.30l-4.30 -2.04zM670.2 372.6l4.28 1.89l-1.89 4.28l-4.28 -1.89zM676.6 373.1l3.90 1.94l-1.94 3.90l-3.90 -1.94zM682.8 372.7l4.43 1.50l-1.50 4.43l-4.43 -1.50zM689.4 373.0l3.92 2.54l-2.54 3.92l-3.92 -2.54zM696.1 373.1l4.22 1.26l-1.26 4.22l-4.22 -1.26zM703.0 372.2l4.28 1.67l-1.67 4.28l-4.28 -1.67zM709.1 373.3l4.12 1.55l-1.55 4.12l-4.12 -1.55zM715.2 372.8l3.90 1.95l-1.95 3.90l-3.90 -1.95zM721.7 373.2l4.31 1.62l-1.62 4.31l-4.31 -1.62zM728.5 372.5l4.10 1.96l-1.96 4.10l-4.10 -1.96zM641.9 378.0l3.74 2.57l-2.57 3.74l-3.74 -2.57zM647.3 378.2l4.32 1.32l-1.32 4.32l-4.32 -1.32zM654.2 378.4l3.87 1.88l-1.88 3.87l-3.87 -1.88zM660.4 378.2l4.01 2.07l-2.07 4.01l-4.01 -2.07zM667.1 378.2l4.25 2.36l-2.36 4.25l-4.25 -2.36zM673.1 378.1l3.99 2.15l-2.15 3.99l-3.99 -2.15zM680.1 378.5l4.44 1.78l-1.78 4.44l-4.44 -1.78zM686.9 378.3l4.05 1.82l-1.82 4.05l-4.05 -1.82zM693.1 378.5l4.65 1.15l-1.15 4.65l-4.65 -1.15zM698.6 378.9l4.46 1.25l-1.25 4.46l-4.46 -1.25zM705.2 378.4l4.69 1.05l-1.05 4.69l-4.69 -1.05zM711.5 377.9l4.07 2.04l-2.04 4.07l-4.07 -2.04zM717.9 378.3l4.22 1.48l-1.48 4.22l-4.22 -1.48zM724.9 378.7l4.38 1.25l-1.25 4.38l-4.38 -1.25z" fill="#0a0a0a"/>
<path d="M637 381 L637 313" stroke="#0a0a0a" stroke-width="2.2"/>
<path d="M642.3 308.8h0.9v0.9h-0.9zM644.4 307.3h0.9v0.9h-0.9zM645.9 305.7h0.9v0.9h-0.9zM650.5 302.1h0.9v0.9h-0.9zM652.2 300.5h0.9v0.9h-0.9zM658.9 296.3h0.9v0.9h-0.9zM662.8 293.2h0.9v0.9h-0.9zM678.8 303.8h0.9v0.9h-0.9zM681.3 302.0h0.9v0.9h-0.9zM684.4 299.7h0.9v0.9h-0.9zM689.6 296.3h0.9v0.9h-0.9zM705.2 301.6h0.9v0.9h-0.9zM707.9 301.6h0.9v0.9h-0.9zM716.2 301.7h0.9v0.9h-0.9zM719.3 301.8h0.9v0.9h-0.9zM722.1 301.5h0.9v0.9h-0.9zM724.7 301.4h0.9v0.9h-0.9zM727.7 301.8h0.9v0.9h-0.9zM730.7 301.4h0.9v0.9h-0.9zM736.1 301.7h0.9v0.9h-0.9zM715.9 308.8h0.9v0.9h-0.9zM719.0 308.2h0.9v0.9h-0.9zM722.0 307.3h0.9v0.9h-0.9zM724.4 305.8h0.9v0.9h-0.9zM727.4 305.3h0.9v0.9h-0.9zM733.5 303.1h0.9v0.9h-0.9zM736.5 302.1h0.9v0.9h-0.9zM739.0 301.1h0.9v0.9h-0.9zM742.4 299.7h0.9v0.9h-0.9zM732.2 330.0h0.9v0.9h-0.9zM734.4 328.2h0.9v0.9h-0.9zM739.4 324.9h0.9v0.9h-0.9zM742.0 323.4h0.9v0.9h-0.9zM745.2 321.4h0.9v0.9h-0.9zM750.4 318.0h0.9v0.9h-0.9zM734.7 360.1h0.9v0.9h-0.9zM737.2 357.6h0.9v0.9h-0.9zM742.2 354.3h0.9v0.9h-0.9zM744.6 352.2h0.9v0.9h-0.9zM747.7 349.7h0.9v0.9h-0.9zM727.0 294.4h0.9v0.9h-0.9zM718.4 305.1h0.9v0.9h-0.9zM704.1 308.8h0.9v0.9h-0.9zM686.6 309.4h0.9v0.9h-0.9zM726.0 293.2h0.9v0.9h-0.9zM666.3 304.1h0.9v0.9h-0.9zM734.5 294.4h0.9v0.9h-0.9zM691.4 305.4h0.9v0.9h-0.9zM679.1 307.6h0.9v0.9h-0.9zM706.3 294.0h0.9v0.9h-0.9zM696.2 302.8h0.9v0.9h-0.9zM702.3 304.5h0.9v0.9h-0.9zM677.3 306.6h0.9v0.9h-0.9zM695.9 304.0h0.9v0.9h-0.9zM718.5 300.1h0.9v0.9h-0.9zM697.8 306.4h0.9v0.9h-0.9zM745.3 306.3h0.9v0.9h-0.9zM713.2 298.0h0.9v0.9h-0.9zM670.2 309.6h0.9v0.9h-0.9zM724.8 307.1h0.9v0.9h-0.9zM693.2 303.3h0.9v0.9h-0.9zM748.1 307.1h0.9v0.9h-0.9zM716.1 298.2h0.9v0.9h-0.9zM701.4 308.1h0.9v0.9h-0.9zM697.0 304.6h0.9v0.9h-0.9zM716.2 308.2h0.9v0.9h-0.9zM733.6 297.8h0.9v0.9h-0.9zM665.1 297.5h0.9v0.9h-0.9zM700.9 303.0h0.9v0.9h-0.9zM734.4 308.1h0.9v0.9h-0.9zM734.8 354.2h0.9v0.9h-0.9zM748.6 356.4h0.9v0.9h-0.9zM744.3 317.8h0.9v0.9h-0.9zM749.3 352.5h0.9v0.9h-0.9zM746.3 359.4h0.9v0.9h-0.9zM740.2 305.5h0.9v0.9h-0.9zM744.0 351.8h0.9v0.9h-0.9zM737.6 348.8h0.9v0.9h-0.9zM750.8 315.2h0.9v0.9h-0.9zM744.9 344.0h0.9v0.9h-0.9zM742.4 313.4h0.9v0.9h-0.9zM738.6 348.8h0.9v0.9h-0.9zM748.2 329.9h0.9v0.9h-0.9zM735.6 352.4h0.9v0.9h-0.9zM747.9 315.1h0.9v0.9h-0.9zM744.4 358.3h0.9v0.9h-0.9zM749.9 333.9h0.9v0.9h-0.9zM742.6 338.3h0.9v0.9h-0.9zM737.4 312.5h0.9v0.9h-0.9zM737.3 345.6h0.9v0.9h-0.9zM740.5 336.7h0.9v0.9h-0.9zM741.2 333.6h0.9v0.9h-0.9zM736.7 302.9h0.9v0.9h-0.9zM751.9 324.3h0.9v0.9h-0.9zM735.9 341.1h0.9v0.9h-0.9z" fill="#aaa"/>
<path d="M889.3 356.7 L902.3 381 L876.3 381 Z M886.3 380 h5.6 v15 h-5.6 z M876.3 394.6 L902.3 394.6 L889.1 418.7 Z" fill="#0a0a0a"/>
<path d="M267 533.2 L316.9 551.2 L300.5 556.6 Q419 607.5 542.5 539.8 L525.1 530.7 L577.3 526.3 L551.6 571.3 L550.8 550.6 Q421 628 287.3 565.2 L281.8 583.1 Z" fill="#0a0a0a"/></svg></body></html>
